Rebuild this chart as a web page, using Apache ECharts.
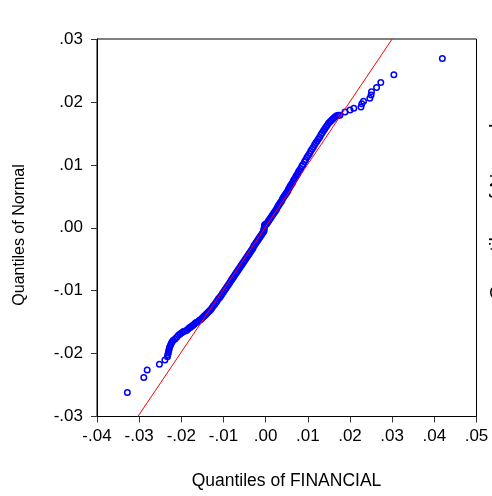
<!DOCTYPE html>
<html>
<head>
<meta charset="utf-8">
<script src="https://cdn.jsdelivr.net/npm/echarts@6/dist/echarts.min.js"></script>
<style>
  html, body { margin: 0; padding: 0; background: #fff; }
  #chart { width: 492px; height: 496px; }
</style>
</head>
<body>
<div id="chart"></div>
<script>
// Empirical quantiles of FINANCIAL returns (x) against normal quantiles (y)
const qqPoints = [
  [-0.0328,-0.0262],[-0.0289,-0.0238],[-0.0281,-0.0226],[-0.0252,-0.0217],[-0.0239,-0.0210],
  [-0.0233,-0.0205],[-0.0232,-0.0202],[-0.0231,-0.0199],[-0.0230,-0.0196],[-0.0229,-0.0193],
  [-0.0228,-0.0190],[-0.0226,-0.0187],[-0.0224,-0.0184],[-0.0222,-0.0181],[-0.0219,-0.0179],
  [-0.0215,-0.0177],[-0.0211,-0.0174],[-0.0207,-0.0171],[-0.0203,-0.0169],[-0.0199,-0.0167],
  [-0.0195,-0.0165],[-0.0191,-0.0164],[-0.0187,-0.0163],[-0.0184,-0.0161],[-0.0181,-0.0159],
  [-0.0178,-0.0158],[-0.0175,-0.0156],[-0.0172,-0.0155],[-0.0169,-0.0153],[-0.0166,-0.0151],
  [-0.0163,-0.0150],[-0.0160,-0.0149],[-0.0157,-0.0147],[-0.0154,-0.0146],[-0.0151,-0.0144],
  [-0.0148,-0.0142],[-0.0145,-0.0140],[-0.0142,-0.0138],[-0.0139,-0.0136],[-0.0136,-0.0134],
  [-0.0133,-0.0132],[-0.0130,-0.0130],[-0.0127,-0.0127],[-0.0124,-0.0124],[-0.0121,-0.0122],
  [-0.0118,-0.0119],[-0.0115,-0.0116],[-0.0112,-0.0113],[-0.0109,-0.0111],[-0.0106,-0.0108],
  [-0.0103,-0.0105],[-0.0100,-0.0102],[-0.0097,-0.0099],[-0.0094,-0.0096],[-0.0091,-0.0093],
  [-0.0088,-0.0090],[-0.0085,-0.0087],[-0.0082,-0.0084],[-0.0080,-0.0082],[-0.0078,-0.0080],
  [-0.0076,-0.0078],[-0.0074,-0.0076],[-0.0072,-0.0074],[-0.0070,-0.0072],[-0.0068,-0.0070],
  [-0.0066,-0.0068],[-0.0064,-0.0066],[-0.0062,-0.0064],[-0.0060,-0.0062],[-0.0058,-0.0060],
  [-0.0056,-0.0058],[-0.0054,-0.0056],[-0.0052,-0.0054],[-0.0050,-0.0052],[-0.0048,-0.0050],
  [-0.0046,-0.0048],[-0.0044,-0.0046],[-0.0042,-0.0044],[-0.0040,-0.0042],[-0.0038,-0.0040],
  [-0.0036,-0.0038],[-0.0034,-0.0036],[-0.0032,-0.0034],[-0.0030,-0.0032],[-0.0028,-0.0029],
  [-0.0026,-0.0027],[-0.0024,-0.0025],[-0.0022,-0.0023],[-0.0020,-0.0021],[-0.0018,-0.0019],
  [-0.0016,-0.0017],[-0.0014,-0.0015],[-0.0012,-0.0013],[-0.0010,-0.0011],[-0.0008,-0.0009],
  [-0.0006,-0.0007],[-0.0004,-0.0005],[-0.0004,-0.0003],[-0.0004,-0.0001],[-0.0003,0.0001],
  [-0.0003,0.0003],[-0.0002,0.0005],[0.0000,0.0005],
  [0.0002,0.0006],[0.0004,0.0008],[0.0006,0.0010],[0.0008,0.0012],[0.0010,0.0014],
  [0.0012,0.0016],[0.0014,0.0018],[0.0016,0.0020],[0.0018,0.0022],[0.0020,0.0024],
  [0.0022,0.0026],[0.0024,0.0028],[0.0026,0.0030],[0.0028,0.0033],[0.0030,0.0035],
  [0.0032,0.0037],[0.0034,0.0039],[0.0036,0.0041],[0.0038,0.0043],[0.0040,0.0046],
  [0.0042,0.0048],[0.0044,0.0050],[0.0046,0.0052],[0.0048,0.0054],[0.0050,0.0056],
  [0.0052,0.0058],[0.0054,0.0061],[0.0056,0.0063],[0.0058,0.0066],[0.0060,0.0068],
  [0.0062,0.0070],[0.0064,0.0072],[0.0066,0.0075],[0.0068,0.0077],[0.0070,0.0079],
  [0.0072,0.0082],[0.0074,0.0084],[0.0076,0.0086],[0.0078,0.0089],[0.0080,0.0091],
  [0.0083,0.0094],[0.0086,0.0098],[0.0089,0.0101],[0.0092,0.0105],[0.0095,0.0108],
  [0.0098,0.0112],[0.0101,0.0115],[0.0104,0.0118],[0.0107,0.0122],[0.0110,0.0125],
  [0.0113,0.0128],[0.0116,0.0132],[0.0119,0.0135],[0.0122,0.0138],[0.0125,0.0141],
  [0.0128,0.0144],[0.0131,0.0148],[0.0134,0.0151],[0.0137,0.0154],[0.0140,0.0157],
  [0.0143,0.0160],[0.0146,0.0163],[0.0149,0.0166],[0.0152,0.0168],[0.0155,0.0170],
  [0.0158,0.0172],[0.0161,0.0174],[0.0164,0.0176],[0.0168,0.0178],[0.0172,0.0179],
  [0.0176,0.0179],[0.0188,0.0184],[0.0200,0.0187],[0.0209,0.0190],[0.0226,0.0192],
  [0.0228,0.0197],[0.0232,0.0201],[0.0247,0.0206],[0.0250,0.0211],[0.0251,0.0216],
  [0.0263,0.0223],[0.0273,0.0231],[0.0304,0.0243],[0.0419,0.0269]
];

// Reference line end points
const refLineX = [-0.0303, 0.0300];
const refLineY = [-0.030, 0.030];

const xAxisName = 'Quantiles of FINANCIAL';
const yAxisName = 'Quantiles of Normal';

// ".03" / "-.03" / ".00" style tick labels
function quantileLabel(v) {
  const r = Math.round(v * 100) / 100;
  const s = Math.abs(r).toFixed(2).replace(/^0/, '');
  return (r < 0 ? '-' : '') + s;
}

const FONT = '"Liberation Sans", Arial, Helvetica, sans-serif';

const chart = echarts.init(document.getElementById('chart'), null, { renderer: 'canvas' });

chart.setOption({
  animation: false,
  backgroundColor: '#fff',
  grid: {
    left: 97, top: 39, right: 15.5, bottom: 79.5,
    show: true, borderColor: '#000', borderWidth: 1, backgroundColor: 'transparent'
  },
  xAxis: {
    type: 'value', min: -0.04, max: 0.05, interval: 0.01,
    axisLine: { onZero: false, lineStyle: { color: '#000', width: 1 } },
    axisTick: { show: true, length: 6, lineStyle: { color: '#333' } },
    axisLabel: { formatter: quantileLabel, color: '#000', fontSize: 17, fontFamily: FONT, margin: 11, showMaxLabel: true, showMinLabel: true },
    splitLine: { show: false }
  },
  yAxis: {
    type: 'value', min: -0.03, max: 0.03, interval: 0.01,
    axisLine: { onZero: false, lineStyle: { color: '#000', width: 1 } },
    axisTick: { show: true, length: 6, lineStyle: { color: '#333' } },
    axisLabel: { formatter: quantileLabel, color: '#000', fontSize: 17, fontFamily: FONT, margin: 14 },
    splitLine: { show: false }
  },
  graphic: [
    {
      type: 'text', x: 286.5, y: 481,
      style: { text: xAxisName, font: '17.5px ' + FONT, fill: '#000', textAlign: 'center', textVerticalAlign: 'middle' }
    },
    {
      type: 'text', x: 20, y: 235, rotation: Math.PI / 2,
      style: { text: yAxisName, font: '16px ' + FONT, fill: '#000', textAlign: 'center', textVerticalAlign: 'middle' }
    },
    {
      type: 'text', x: 488.5, y: 212, rotation: Math.PI / 2,
      style: { text: yAxisName, font: '20px ' + FONT, fill: '#000', textAlign: 'center', textVerticalAlign: 'top' }
    }
  ],
  series: [
    {
      type: 'scatter',
      data: qqPoints,
      symbol: 'circle',
      symbolSize: 5.5,
      itemStyle: { color: 'rgba(0,0,0,0)', borderColor: '#0000ff', borderWidth: 1.5, opacity: 1 },
      emphasis: { disabled: true },
      z: 2
    },
    {
      type: 'line',
      data: refLineX.map((x, i) => [x, refLineY[i]]),
      symbol: 'none',
      lineStyle: { color: '#ff0000', width: 1 },
      emphasis: { disabled: true },
      z: 3
    }
  ]
});
</script>
</body>
</html>
